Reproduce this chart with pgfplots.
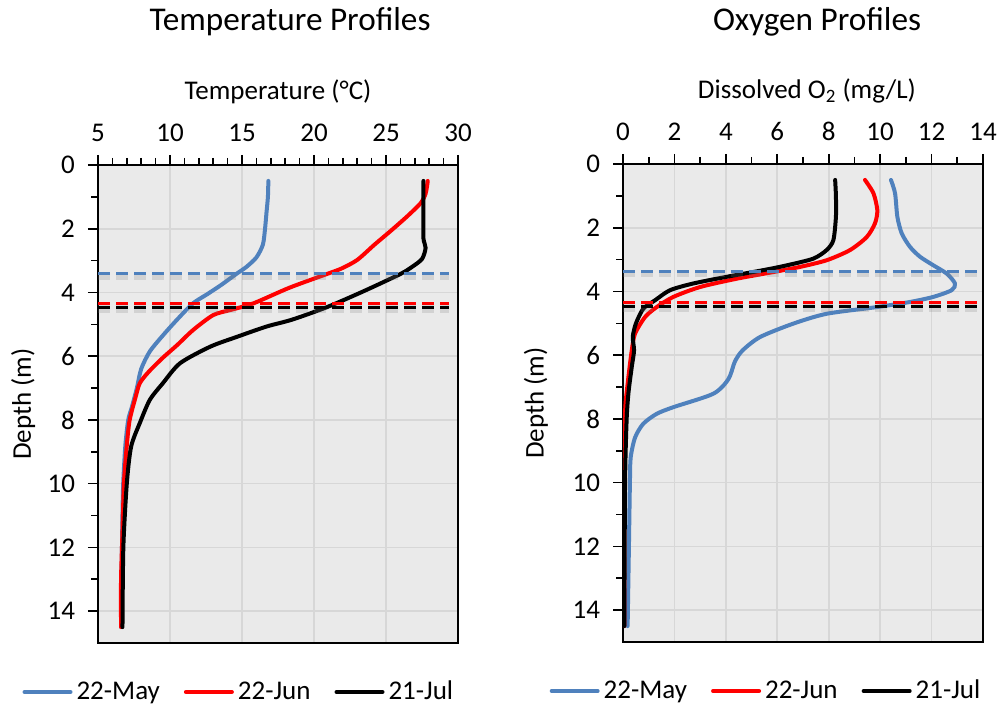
\documentclass[border=0pt]{standalone}
\usepackage{fontspec}
\setmainfont{Carlito}
\usepackage{pgfplots}
\pgfplotsset{compat=1.18}
\definecolor{myblue}{RGB}{79,129,189}
\definecolor{bgc}{RGB}{234,234,234}
\definecolor{gridc}{RGB}{215,215,215}
\newcommand{\lblfont}{\fontsize{13.5}{16}\selectfont}
\newcommand{\ttlfont}{\fontsize{16.6}{20}\selectfont}
\pgfplotsset{
  prof/.style={
    scale only axis, width=180pt, height=239pt,
    y dir=reverse, ymin=0, ymax=15, ytick={0,2,...,14}, minor y tick num=1,
    xtick pos=upper, xticklabel pos=upper, ytick pos=left,
    tick align=outside, major tick length=5pt, minor tick length=3.5pt,
    every tick/.style={black, line width=0.8pt},
    axis line style={black, line width=1pt},
    axis background/.style={fill=bgc},
    grid=major, major grid style={gridc, line width=0.8pt},
    tick label style={font=\lblfont},
    label style={font=\lblfont},
    xticklabel style={yshift=3pt},
    yticklabel style={xshift=-3pt},
    /pgf/number format/assume math mode=true,
    ylabel={Depth (m)},
    legend columns=3,
    legend style={draw=none, fill=none, font=\lblfont, anchor=center,
      /tikz/every even column/.append style={column sep=10pt}},
    legend image code/.code={\draw[#1] (0pt,0pt) -- (23pt,0pt);},
    every axis plot/.append style={line join=round, line cap=round},
  },
  dat/.style={line width=2pt, smooth, tension=0.45},
  hl/.style={line width=1.5pt, dash pattern=on 6pt off 3pt, line cap=butt, forget plot},
  sh/.style={line width=3pt, dash pattern=on 6pt off 3pt, gray, opacity=0.22, yshift=-1.5pt, line cap=butt, forget plot},
}
\begin{document}
\begin{tikzpicture}
\path[use as bounding box] (0,0) rectangle (500pt,355.5pt);
\begin{axis}[prof, at={(49pt,273pt)}, anchor=north west,
  xmin=5, xmax=30, xtick={5,10,...,30}, minor x tick num=4,
  xlabel={Temperature (°C)},
  xlabel style={at={(axis description cs:0.5,1.153)}, anchor=center},
  ylabel style={at={(axis description cs:-0.208,0.5)}, anchor=center},
  legend style={at={(axis description cs:0.394,-0.1025)}}]
\addplot[dat, myblue] coordinates {
(16.83,0.5) (16.8,1.0) (16.7,1.5) (16.6,2.0) (16.45,2.5) (16.0,2.9) (15.3,3.2)
(14.6,3.42) (13.6,3.75) (12.6,4.05) (11.6,4.34) (10.6,4.8) (9.6,5.3) (8.6,5.85)
(8.0,6.4) (7.7,7.0) (7.35,7.6) (7.1,8.0) (6.9,8.8) (6.75,10) (6.7,11) (6.65,12.5) (6.6,14.5)};
\addlegendentry{22-May}
\addplot[dat, red] coordinates {
(27.9,0.5) (27.75,0.9) (27.4,1.2) (26.5,1.6) (25.4,2.04) (24.2,2.5) (23.0,2.98)
(21.9,3.25) (20.9,3.42) (18.3,3.85) (15.8,4.34) (14.2,4.55) (13.0,4.71) (11.6,5.18)
(10.5,5.65) (9.5,6.05) (8.5,6.5) (7.9,6.85) (7.6,7.3) (7.2,8.0) (7.0,8.8) (6.8,10) (6.7,11.5) (6.6,13) (6.6,14.5)};
\addlegendentry{22-Jun}
\addplot[dat, black] coordinates {
(27.6,0.5) (27.6,1.5) (27.6,2.3) (27.75,2.6) (27.5,2.95) (26.8,3.2) (26.0,3.42)
(23.5,3.95) (20.9,4.46) (18.5,4.85) (16.7,5.07) (14.6,5.4) (12.8,5.7) (10.7,6.22)
(9.5,6.85) (8.6,7.37) (7.9,8.1) (7.3,8.84) (7.0,10) (6.76,12) (6.7,14.5)};
\addlegendentry{21-Jul}
\addplot[sh] coordinates {(5,3.42) (29.4,3.42)};
\addplot[sh] coordinates {(5,4.34) (29.4,4.34)};
\addplot[sh] coordinates {(5,4.46) (29.4,4.46)};
\addplot[hl, myblue] coordinates {(5,3.42) (29.4,3.42)};
\addplot[hl, black] coordinates {(5,4.46) (29.4,4.46)};
\addplot[hl, red] coordinates {(5,4.34) (29.4,4.34)};
\end{axis}
\node[font=\ttlfont] at (145pt,344.5pt) {Temperature Profiles};
\begin{axis}[prof, at={(311.5pt,273.5pt)}, anchor=north west,
  xmin=0, xmax=14, xtick={0,2,...,14}, minor x tick num=1,
  xlabel={Dissolved O\textsubscript{2} (mg/L)},
  xlabel style={at={(axis description cs:0.511,1.153)}, anchor=center},
  ylabel style={at={(axis description cs:-0.242,0.5)}, anchor=center},
  legend style={at={(axis description cs:0.4,-0.1025)}}]
\addplot[dat, myblue] coordinates {
(10.42,0.5) (10.58,0.92) (10.67,1.66) (10.84,2.18) (11.16,2.6) (11.55,2.91) (12.07,3.18)
(12.59,3.44) (12.91,3.75) (12.78,3.96) (12.07,4.17) (11.16,4.33) (9.87,4.49) (7.92,4.7)
(6.62,5.01) (5.33,5.43) (4.65,5.85) (4.35,6.2) (4.1,6.75) (3.51,7.21) (1.96,7.63)
(1.31,7.84) (0.79,8.15) (0.47,8.58) (0.3,9.2) (0.27,9.94) (0.23,12) (0.18,14.5)};
\addlegendentry{22-May}
\addplot[dat, red] coordinates {
(9.41,0.5) (9.74,0.92) (9.89,1.45) (9.8,1.86) (9.48,2.29) (8.83,2.7) (7.92,3.02)
(6.88,3.23) (5.85,3.39) (4.42,3.6) (3.0,3.86) (1.96,4.17) (1.31,4.49) (0.86,4.8)
(0.47,5.32) (0.34,5.85) (0.18,6.9) (0.08,7.8) (0.05,10) (0.05,14.5)};
\addlegendentry{22-Jun}
\addplot[dat, black] coordinates {
(8.25,0.5) (8.28,1.0) (8.28,1.66) (8.18,2.39) (7.92,2.7) (7.4,2.97) (6.37,3.18)
(5.46,3.33) (4.03,3.54) (2.73,3.75) (1.83,3.96) (1.24,4.28) (0.79,4.54) (0.5,5.01)
(0.38,5.43) (0.43,5.85) (0.34,6.37) (0.21,7.2) (0.14,8.05) (0.08,10) (0.05,14.5)};
\addlegendentry{21-Jul}
\addplot[sh] coordinates {(0,3.36) (13.77,3.36)};
\addplot[sh] coordinates {(0,4.34) (13.77,4.34)};
\addplot[sh] coordinates {(0,4.47) (13.77,4.47)};
\addplot[hl, myblue] coordinates {(0,3.36) (13.77,3.36)};
\addplot[hl, black] coordinates {(0,4.47) (13.77,4.47)};
\addplot[hl, red] coordinates {(0,4.34) (13.77,4.34)};
\end{axis}
\node[font=\ttlfont] at (408.5pt,344.5pt) {Oxygen Profiles};
\end{tikzpicture}
\end{document}
